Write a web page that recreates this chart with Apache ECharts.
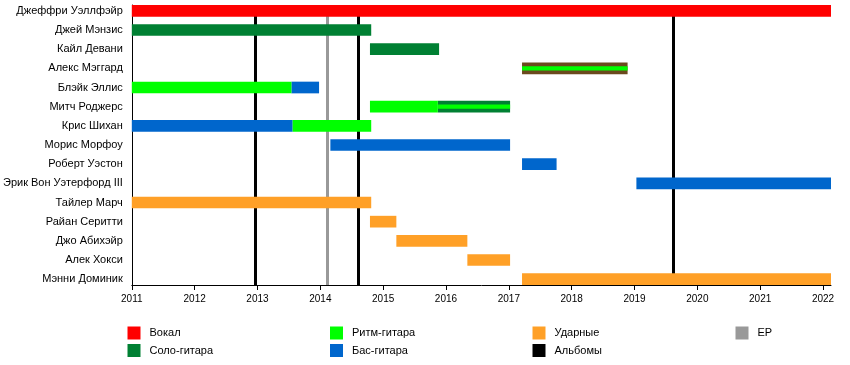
<!DOCTYPE html>
<html>
<head>
<meta charset="utf-8">
<script src="https://cdn.jsdelivr.net/npm/echarts@6/dist/echarts.min.js"></script>
<style>
html,body{margin:0;padding:0;background:#fff;}
#chart{width:850px;height:365px;}
</style>
</head>
<body>
<div id="chart"></div>
<script>
const members = [
  'Джеффри Уэллфэйр', 'Джей Мэнзис', 'Кайл Девани', 'Алекс Мэггард', 'Блэйк Эллис',
  'Митч Роджерс', 'Крис Шихан', 'Морис Морфоу', 'Роберт Уэстон', 'Эрик Вон Уэтерфорд III',
  'Тайлер Марч', 'Райан Серитти', 'Джо Абихэйр', 'Алек Хокси', 'Мэнни Доминик'
];
const years = [2011, 2012, 2013, 2014, 2015, 2016, 2017, 2018, 2019, 2020, 2021, 2022];
const timeStart = 2011;
const timeEnd = 2022.127;

// [member, start, end]
const vocals = [['Джеффри Уэллфэйр', 2011, 2022.127]];
const leadGuitar = [
  ['Джей Мэнзис', 2011, 2014.81],
  ['Кайл Девани', 2014.79, 2015.89],
  ['Митч Роджерс', 2015.87, 2017.02]
];
const otherRole = [['Алекс Мэггард', 2017.21, 2018.89]];
const rhythmGuitar = [
  ['Блэйк Эллис', 2011, 2013.54],
  ['Митч Роджерс', 2014.79, 2015.87],
  ['Крис Шихан', 2013.56, 2014.81]
];
const rhythmSecondary = [
  ['Алекс Мэггард', 2017.21, 2018.89],
  ['Митч Роджерс', 2015.87, 2017.02]
];
const bass = [
  ['Блэйк Эллис', 2013.54, 2013.98],
  ['Крис Шихан', 2011, 2013.56],
  ['Морис Морфоу', 2014.16, 2017.02],
  ['Роберт Уэстон', 2017.21, 2017.76],
  ['Эрик Вон Уэтерфорд III', 2019.03, 2022.127]
];
const drums = [
  ['Тайлер Марч', 2011, 2014.81],
  ['Райан Серитти', 2014.79, 2015.21],
  ['Джо Абихэйр', 2015.21, 2016.34],
  ['Алек Хокси', 2016.34, 2017.02],
  ['Мэнни Доминик', 2017.21, 2022.127]
];
const albums = [2012.96, 2014.60, 2019.62];
const eps = [2014.11];

const Y_MIN = -0.305, Y_MAX = members.length - 1 + 0.305;

function toData(arr) {
  return arr.map(d => [d[1], d[2], members.indexOf(d[0])]);
}
function barRenderer(ratio) {
  return function (params, api) {
    const s = api.coord([api.value(0), api.value(2)]);
    const e = api.coord([api.value(1), api.value(2)]);
    const h = Math.abs(api.size([0, 1])[1]) * ratio;
    return {
      type: 'rect',
      shape: { x: s[0], y: s[1] - h / 2, width: e[0] - s[0], height: h },
      style: { fill: api.visual('color') }
    };
  };
}
function barSeries(name, color, arr, ratio) {
  return {
    type: 'custom', name: name, color: color, z: 3,
    renderItem: barRenderer(ratio),
    encode: { x: [0, 1], y: 2 },
    data: toData(arr)
  };
}
function lineSeries(name, color, xs) {
  return {
    type: 'line', name: name, color: color, data: [], z: 1,
    markLine: {
      silent: true, z: 1, symbol: ['none', 'none'], label: { show: false },
      lineStyle: { color: color, width: 3, type: 'solid' },
      data: xs.map(x => ({ xAxis: x }))
    }
  };
}

const chart = echarts.init(document.getElementById('chart'), null, { renderer: 'canvas' });
const fontFamily = '"Liberation Sans", Arial, sans-serif';
const legendBase = {
  orient: 'vertical', top: 326.5, itemWidth: 13, itemHeight: 13, itemGap: 4.5,
  icon: 'rect', padding: 0,
  textStyle: { fontSize: 11, color: '#000', fontFamily: fontFamily, padding: [0, 0, 0, 4] }
};
chart.setOption({
  animation: false,
  backgroundColor: '#fff',
  textStyle: { fontFamily: fontFamily },
  grid: { left: 130, right: 19, top: 5, bottom: 80 },
  legend: [
    Object.assign({}, legendBase, { left: 127.5, data: ['Вокал', 'Соло-гитара'] }),
    Object.assign({}, legendBase, { left: 330, data: ['Ритм-гитара', 'Бас-гитара'] }),
    Object.assign({}, legendBase, { left: 532.5, data: ['Ударные', 'Альбомы'] }),
    Object.assign({}, legendBase, { left: 735.5, data: ['EP'] })
  ],
  xAxis: {
    type: 'value', min: timeStart, max: timeEnd,
    splitLine: { show: false },
    axisLine: { show: true, onZero: false, lineStyle: { color: '#000', width: 1 } },
    axisTick: { show: true, length: 5, lineStyle: { color: '#000' }, customValues: years },
    axisLabel: { fontSize: 10, color: '#000', margin: 9, customValues: years, formatter: v => String(v) }
  },
  yAxis: {
    type: 'value', min: Y_MIN, max: Y_MAX, inverse: true,
    splitLine: { show: false },
    axisLine: { show: true, onZero: false, lineStyle: { color: '#000', width: 1 } },
    axisTick: { show: false },
    axisLabel: {
      fontSize: 11, color: '#000', margin: 9,
      customValues: members.map((m, i) => i),
      formatter: v => members[Math.round(v)]
    }
  },
  series: [
    lineSeries('Альбомы', '#000000', albums),
    lineSeries('EP', '#999999', eps),
    barSeries('Вокал', '#ff0000', vocals, 0.61),
    barSeries('Соло-гитара', '#008033', leadGuitar, 0.61),
    barSeries('other', '#6b4a1e', otherRole, 0.61),
    barSeries('Бас-гитара', '#0066cc', bass, 0.61),
    barSeries('Ударные', '#ffa027', drums, 0.61),
    barSeries('Ритм-гитара', '#00ff00', rhythmGuitar, 0.61),
    barSeries('Ритм-гитара', '#00ff00', rhythmSecondary, 0.22)
  ]
});
</script>
</body>
</html>
